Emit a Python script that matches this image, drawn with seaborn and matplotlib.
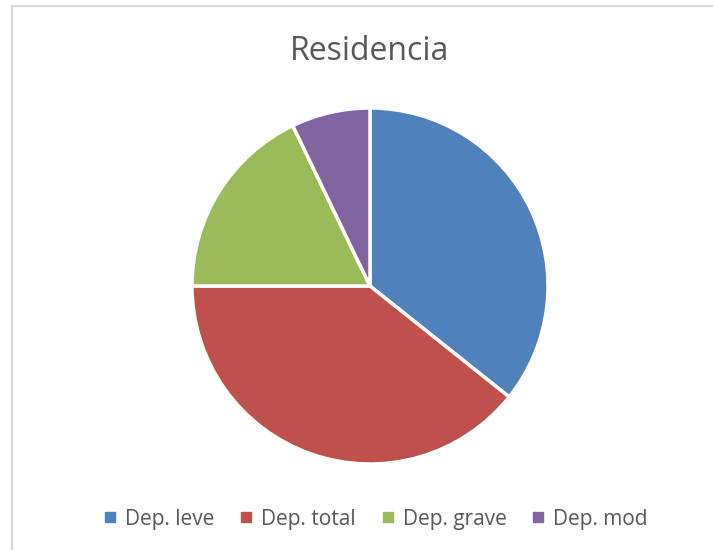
import matplotlib
matplotlib.use("Agg")
import matplotlib.pyplot as plt
import seaborn as sns
from matplotlib.patches import Rectangle
from matplotlib.lines import Line2D

categories = ["Dep. leve", "Dep. total", "Dep. grave", "Dep. mod"]
values = [10, 11, 5, 2]
colors = ["#4F81BD", "#C0504D", "#9BBB59", "#8064A2"]

sns.set_theme(style="white")
plt.rcParams['font.family'] = ['Open Sans', 'DejaVu Sans']

W, H = 713, 550
fig = plt.figure(figsize=(W / 100, H / 100), dpi=100)
fig.patch.set_facecolor("white")

# chart border (right/bottom edges off-image)
fig.patches.append(Rectangle((12 / W, -0.05), 1.1, 1 - 6 / H + 0.05,
                             transform=fig.transFigure, fill=False,
                             edgecolor="#D9D9D9", linewidth=1.5))

cx, cy, r = 370, 550 - 286, 178
ax = fig.add_axes([(cx - r) / W, (cy - r) / H, 2 * r / W, 2 * r / H])
ax.pie(values, colors=sns.color_palette(colors), startangle=90, counterclock=False,
       radius=1.0, wedgeprops=dict(edgecolor="white", linewidth=2.5))
ax.set_xlim(-1.0, 1.0)
ax.set_ylim(-1.0, 1.0)
ax.axis("off")

fig.text(370 / W, 1 - 52 / H, "Residencia", ha="center", va="center",
         fontsize=23, color="#595959")

handles = [Line2D([0], [0], marker="s", linestyle="", markersize=6.5,
                  markerfacecolor=c, markeredgecolor=c) for c in colors]
fig.legend(handles, categories, loc="center", bbox_to_anchor=(376 / W, 1 - 519 / H),
           ncol=4, frameon=False, fontsize=15, handlelength=0.55, handletextpad=0.45,
           columnspacing=1.25, labelcolor="#595959")

fig.savefig("out.png", dpi=100)
